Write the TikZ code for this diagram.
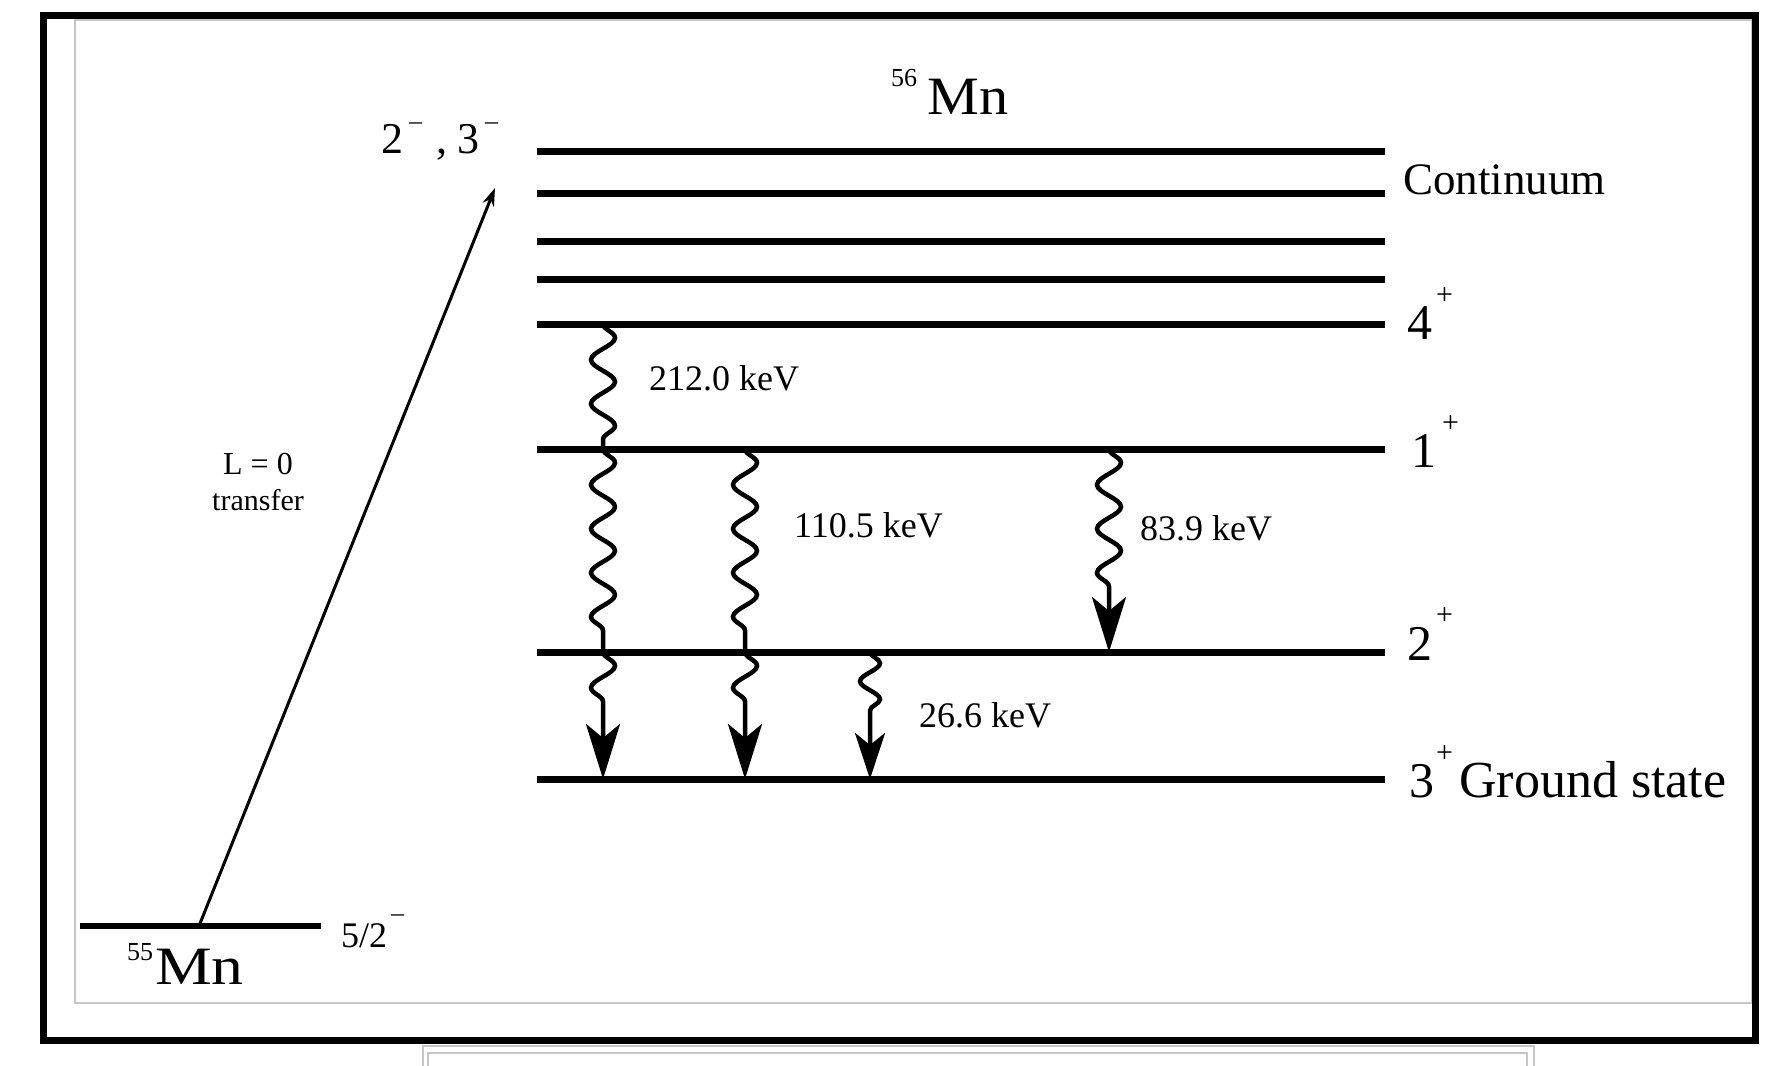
\documentclass[tikz,border=0pt]{standalone}
\usepackage{fontspec}
\usepackage{graphicx}
\setmainfont{Liberation Serif}
\usetikzlibrary{arrows.meta,decorations.pathmorphing}
\newcommand{\fsz}[1]{\fontsize{#1}{#1}\selectfont}
\newcommand{\mysup}[3]{\raisebox{#1}{\fsz{#2}#3}}
\begin{document}
\begin{tikzpicture}[x=1pt,y=-1pt,
  level/.style={line width=7pt},
  wave/.style={line width=4.5pt, decorate,
    decoration={snake, amplitude=12pt, segment length=44pt}},
  bigtip/.style={-{Stealth[length=55pt,width=34pt,inset=14pt]}},
  smalltip/.style={-{Stealth[length=46pt,width=30pt,inset=12pt]}},
  lbl/.style={inner sep=0pt, anchor=base west},
  lvl/.style={lbl, font=\fsz{50}},
  kev/.style={lbl, font=\fsz{36}},
  frame/.style={line width=7pt},
  thinframe/.style={draw=gray!45, line width=2pt}
]
\useasboundingbox (0,0) rectangle (1784,1065);
\fill[white] (0,0) rectangle (1784,1065);

% frames
\draw[thinframe] (75,20) rectangle (1752,1003);
\draw[frame] (43,16) rectangle (1755,1040);
\draw[thinframe] (423,1070) -- (423,1046) -- (1534,1046) -- (1534,1070);
\draw[thinframe] (428,1070) -- (428,1053) -- (1527,1053) -- (1527,1070);

% levels of 56Mn
\foreach \n/\y in {c1/151,c2/193,c3/241,c4/279,l4/324,l1/449,l2/652,l3/779}{
  \coordinate (\n-w) at (537,\y);
  \coordinate (\n-e) at (1385,\y);
  \draw[level] (\n-w) -- (\n-e);
}

% ground level of 55Mn
\coordinate (g-w) at (80,926);
\coordinate (g-e) at (321,926);
\draw[line width=5.5pt] (g-w) -- (g-e);

% transfer arrow
\coordinate (tr-s) at (199,926);
\coordinate (tr-e) at (495,188);
\draw[line width=3pt, -{Stealth[length=18pt,width=12pt]}] (tr-s) -- (tr-e);

% gamma transitions
\coordinate (a1) at (603,324);
\coordinate (a2) at (603,449);
\coordinate (a3) at (603,652);
\coordinate (a4) at (603,779);
\coordinate (b2) at (745,449);
\coordinate (b3) at (745,652);
\coordinate (b4) at (745,779);
\coordinate (c3) at (870,652);
\coordinate (c4) at (870,779);
\coordinate (d2) at (1109,449);
\coordinate (d3) at (1109,652);

\draw[wave] (a1) -- (a2);
\draw[wave] (a2) -- (a3);
\draw[wave, bigtip, decoration={post length=70pt}] (a3) -- (a4);
\draw[wave] (b2) -- (b3);
\draw[wave, bigtip, decoration={post length=70pt}] (b3) -- (b4);
\draw[wave, smalltip, decoration={post length=60pt, amplitude=10pt, segment length=36pt}] (c3) -- (c4);
\draw[wave, bigtip, decoration={post length=60pt}] (d2) -- (d3);

% labels
\node[lbl, font=\fsz{54}] (m56) at (891,114) {\mysup{28pt}{26}{56}\hspace{10pt}\scalebox{1.08}[1]{Mn}};
\node[lbl, font=\fsz{54}] (m55) at (127,984) {\mysup{24pt}{26}{55}\hspace{2pt}\scalebox{1.18}[1]{Mn}};
\node[lbl, font=\fsz{44}] (jp) at (381,153)
  {2\hspace{6pt}\mysup{24pt}{26}{–}\hspace{14pt},\hspace{10pt}3\hspace{6pt}\mysup{24pt}{26}{–}};
\node[lbl, font=\fsz{45}] (cont) at (1403,194) {Continuum};
\node[lvl] (s4) at (1407,339) {4\hspace{4pt}\mysup{35pt}{30}{+}};
\node[lvl] (s1) at (1411,467) {1\hspace{6pt}\mysup{35pt}{30}{+}};
\node[lvl] (s2) at (1407,660) {2\hspace{4pt}\mysup{36pt}{30}{+}};
\node[lvl] (s3) at (1409,797) {3\hspace{2pt}\mysup{35pt}{30}{+}\hspace{6pt}\fsz{52}Ground state};
\node[lbl, font=\fsz{36}] (jg) at (341,947) {5/2\hspace{4pt}\mysup{26pt}{26}{–}};
\node[font=\fsz{30}, align=center, inner sep=0pt] (tl) at (258,482) {\fsz{32}L = 0\\[6pt]\fsz{30}transfer};
\node[kev] (e212) at (649,390) {212.0 keV};
\node[kev] (e110) at (794,537) {110.5 keV};
\node[kev] (e84) at (1140,540) {83.9 keV};
\node[kev] (e27) at (919,727) {26.6 keV};
\end{tikzpicture}
\end{document}
